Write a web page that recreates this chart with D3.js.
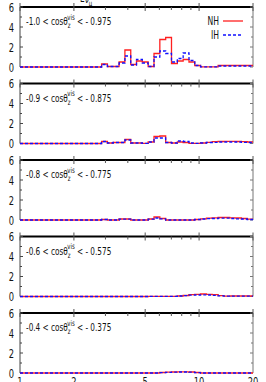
<!DOCTYPE html>
<html lang="en">
<head>
  <meta charset="UTF-8">
  <title>Zenith angle slices NH vs IH</title>
  <script src="https://d3js.org/d3.v7.min.js"></script>
  <style>
    body { margin: 0; background: white; }
    text {
      font-family: "Liberation Sans Narrow", "DejaVu Sans Condensed", "Liberation Sans", sans-serif;
      fill: #111;
    }
    .tick { font-size: 12.5px; }
    .label { font-size: 11px; }
    .legend { font-size: 11.5px; }
  </style>
</head>
<body>
<svg width="266" height="382"></svg>

<script>
const width = 266, height = 382;

// log bin edges in GeV (40 bins from 1 to 20)
const edges = [1.000, 1.078, 1.162, 1.252, 1.350, 1.455, 1.568, 1.690, 1.822, 1.964,
               2.115, 2.279, 2.457, 2.648, 2.855, 3.077, 3.316, 3.575, 3.853, 4.153,
               4.472, 4.820, 5.196, 5.601, 6.037, 6.507, 7.013, 7.560, 8.148, 8.783,
               9.457, 10.19, 10.99, 11.84, 12.77, 13.76, 14.83, 15.99, 17.23, 18.57, 20.00];

const sliceLo = ["-1.0", "-0.9", "-0.8", "-0.6", "-0.4"];
const sliceHi = ["0.975", "0.875", "0.775", "0.575", "0.375"];

const nh1 = [0,0,0,0,0,0,0,0,0,0,
             0,0,0,0,0.3,0.05,0.05,0.5,1.7,0.25,
             0.6,0.5,0.05,1.35,2.75,2.95,0.35,0.6,0.75,0.5,
             0.15,0.02,0.02,0.02,0.15,0.15,0.15,0.15,0.15,0.15];
const ih1 = [0,0,0,0,0,0,0,0,0,0,
             0,0,0,0,0.25,0.05,0.05,0.4,1.1,0.2,
             0.75,0.4,0.05,1.0,1.6,1.35,0.5,0.85,1.4,0.65,
             0.15,0.02,0.02,0.02,0.1,0.1,0.1,0.1,0.1,0.1];

const nh2 = [0,0,0,0,0,0,0,0,0,0,
             0,0,0,0,0.2,0.05,0.1,0.1,0.4,0.05,
             0.05,0.02,0.15,0.7,0.75,0.1,0.05,0.15,0.1,0.02,
             0.02,0.05,0.12,0.18,0.2,0.22,0.22,0.2,0.18,0.15];
const ih2 = [0,0,0,0,0,0,0,0,0,0,
             0,0,0,0,0.2,0.05,0.1,0.1,0.35,0.05,
             0.05,0.02,0.15,0.55,0.55,0.1,0.05,0.25,0.2,0.05,
             0.02,0.05,0.1,0.12,0.15,0.15,0.15,0.15,0.12,0.1];

const nh3 = [0,0,0,0,0,0,0,0,0,0,
             0,0,0,0,0.05,0,0,0.1,0.1,0,
             0,0,0.1,0.3,0.15,0,0,0,0,0,
             0.05,0.12,0.18,0.22,0.25,0.25,0.22,0.2,0.15,0.08];
const ih3 = [0,0,0,0,0,0,0,0,0,0,
             0,0,0,0,0.05,0,0,0.08,0.08,0,
             0,0,0.08,0.2,0.12,0,0,0,0,0,
             0.05,0.1,0.13,0.15,0.18,0.18,0.15,0.12,0.1,0.05];

const nh4 = [0,0,0,0,0,0,0,0,0,0,
             0,0,0,0,0,0,0,0,0,0,
             0,0,0.02,0.02,0.02,0.02,0.02,0.05,0.1,0.18,
             0.22,0.25,0.22,0.18,0.08,0.03,0.05,0.05,0.05,0.05];
const ih4 = [0,0,0,0,0,0,0,0,0,0,
             0,0,0,0,0,0,0,0,0,0,
             0,0,0.02,0.02,0.02,0.02,0.02,0.05,0.08,0.13,
             0.15,0.17,0.15,0.12,0.06,0.03,0.04,0.04,0.04,0.04];

const nh5 = [0,0,0,0,0,0,0,0,0,0,
             0,0,0,0,0,0,0,0,0,0,
             0,0,0,0,0.05,0.08,0.1,0.12,0.12,0.1,
             0.05,0,0,0,0,0,0,0,0,0];
const ih5 = [0,0,0,0,0,0,0,0,0,0,
             0,0,0,0,0,0,0,0,0,0,
             0,0,0,0,0.04,0.06,0.08,0.1,0.1,0.08,
             0.04,0,0,0,0,0,0,0,0,0];

const nhAll = [nh1, nh2, nh3, nh4, nh5];
const ihAll = [ih1, ih2, ih3, ih4, ih5];

const yTicks = [0, 2, 4, 6];
const yMinor = [1, 3, 5];
const xTicks = [1, 2, 5, 10, 20];
const xMinor = [3, 4, 6, 7, 8, 9];

const svg = d3.select("svg")
  .attr("width", width)
  .attr("height", height);

const left = 20, right = 253, panelH = 60, pitch = 76.5, top0 = 7;
const squeeze = 0.74; // the original uses a narrow typeface

const x = d3.scaleLog().domain([1, 20]).range([left, right]);

// narrow text helper: places a text at (px, py) squeezed horizontally
function narrowText(parent, px, py, cls, anchor) {
  return parent.append("g")
    .attr("transform", `translate(${px},${py}) scale(${squeeze},1)`)
    .append("text")
    .attr("class", cls)
    .attr("text-anchor", anchor || "start");
}

// cut-off axis title of the panel above
narrowText(svg, 80, 2, "label")
  .html('E<tspan dy="1">ν</tspan><tspan dy="3" font-size="8">μ</tspan>');

nhAll.forEach((nh, k) => {
  const ih = ihAll[k];
  const top = top0 + pitch * k;
  const y = d3.scaleLinear().domain([0, 6]).range([top + panelH, top]);
  const g = svg.append("g");

  const stepPts = vals => vals.map((v, i) => [edges[i], v]).concat([[edges[edges.length - 1], vals[vals.length - 1]]]);
  const line = d3.line()
    .x(d => x(d[0]))
    .y(d => y(d[1]))
    .curve(d3.curveStepAfter);

  // frame
  g.append("line").attr("x1", left).attr("x2", left).attr("y1", top).attr("y2", top + panelH)
    .attr("stroke", "#444").attr("stroke-width", 1);
  g.append("line").attr("x1", right).attr("x2", right).attr("y1", top).attr("y2", top + panelH)
    .attr("stroke", "#777").attr("stroke-width", 1);
  g.append("line").attr("x1", left).attr("x2", right).attr("y1", top).attr("y2", top)
    .attr("stroke", "#000").attr("stroke-width", 1.8);

  // y ticks, both sides, inward
  yTicks.forEach(t => {
    g.append("line").attr("x1", left).attr("x2", left + 3).attr("y1", y(t)).attr("y2", y(t)).attr("stroke", "#444");
    g.append("line").attr("x1", right).attr("x2", right - 3).attr("y1", y(t)).attr("y2", y(t)).attr("stroke", "#777");
    narrowText(g, 14, y(t), "tick", "end")
      .attr("dy", "0.36em").text(t);
  });
  yMinor.forEach(t => {
    g.append("line").attr("x1", left).attr("x2", left + 2).attr("y1", y(t)).attr("y2", y(t)).attr("stroke", "#444");
    g.append("line").attr("x1", right).attr("x2", right - 2).attr("y1", y(t)).attr("y2", y(t)).attr("stroke", "#777");
  });

  // x ticks at top
  xTicks.forEach(t => {
    g.append("line").attr("x1", x(t)).attr("x2", x(t)).attr("y1", top - 4).attr("y2", top + 4).attr("stroke", "#555");
  });
  xMinor.forEach(t => {
    g.append("line").attr("x1", x(t)).attr("x2", x(t)).attr("y1", top).attr("y2", top + 3).attr("stroke", "#555");
  });

  // histograms
  g.append("path").attr("d", line(stepPts(nh)))
    .attr("fill", "none").attr("stroke", "#ff2020").attr("stroke-width", 1.3);
  g.append("path").attr("d", line(stepPts(ih)))
    .attr("fill", "none").attr("stroke", "#1010ff").attr("stroke-width", 1.3)
    .attr("stroke-dasharray", "3,2");

  // slice label
  narrowText(g, 26, top + 18, "label")
    .html(`${sliceLo[k]} &lt; cosθ<tspan dy="3" font-size="8">z</tspan><tspan dx="-4.5" dy="-8.5" font-size="8">vis</tspan><tspan dy="5.5"> &lt; - ${sliceHi[k]}</tspan>`);

  if (k === 0) {
    const lg = [["NH", "#ff2020", null, 14], ["IH", "#1010ff", "3,2", 28]];
    lg.forEach(([name, col, dash, dy]) => {
      narrowText(g, 219, top + dy, "legend", "end")
        .attr("dy", "0.36em").text(name);
      g.append("line").attr("x1", 223).attr("x2", 243)
        .attr("y1", top + dy).attr("y2", top + dy)
        .attr("stroke", col).attr("stroke-width", 1.3)
        .attr("stroke-dasharray", dash);
    });
  }

  if (k === nhAll.length - 1) {
    xTicks.forEach(t => {
      narrowText(g, x(t), top + panelH + 13, "tick", "middle").text(t);
    });
  }
});
</script>
</body>
</html>
